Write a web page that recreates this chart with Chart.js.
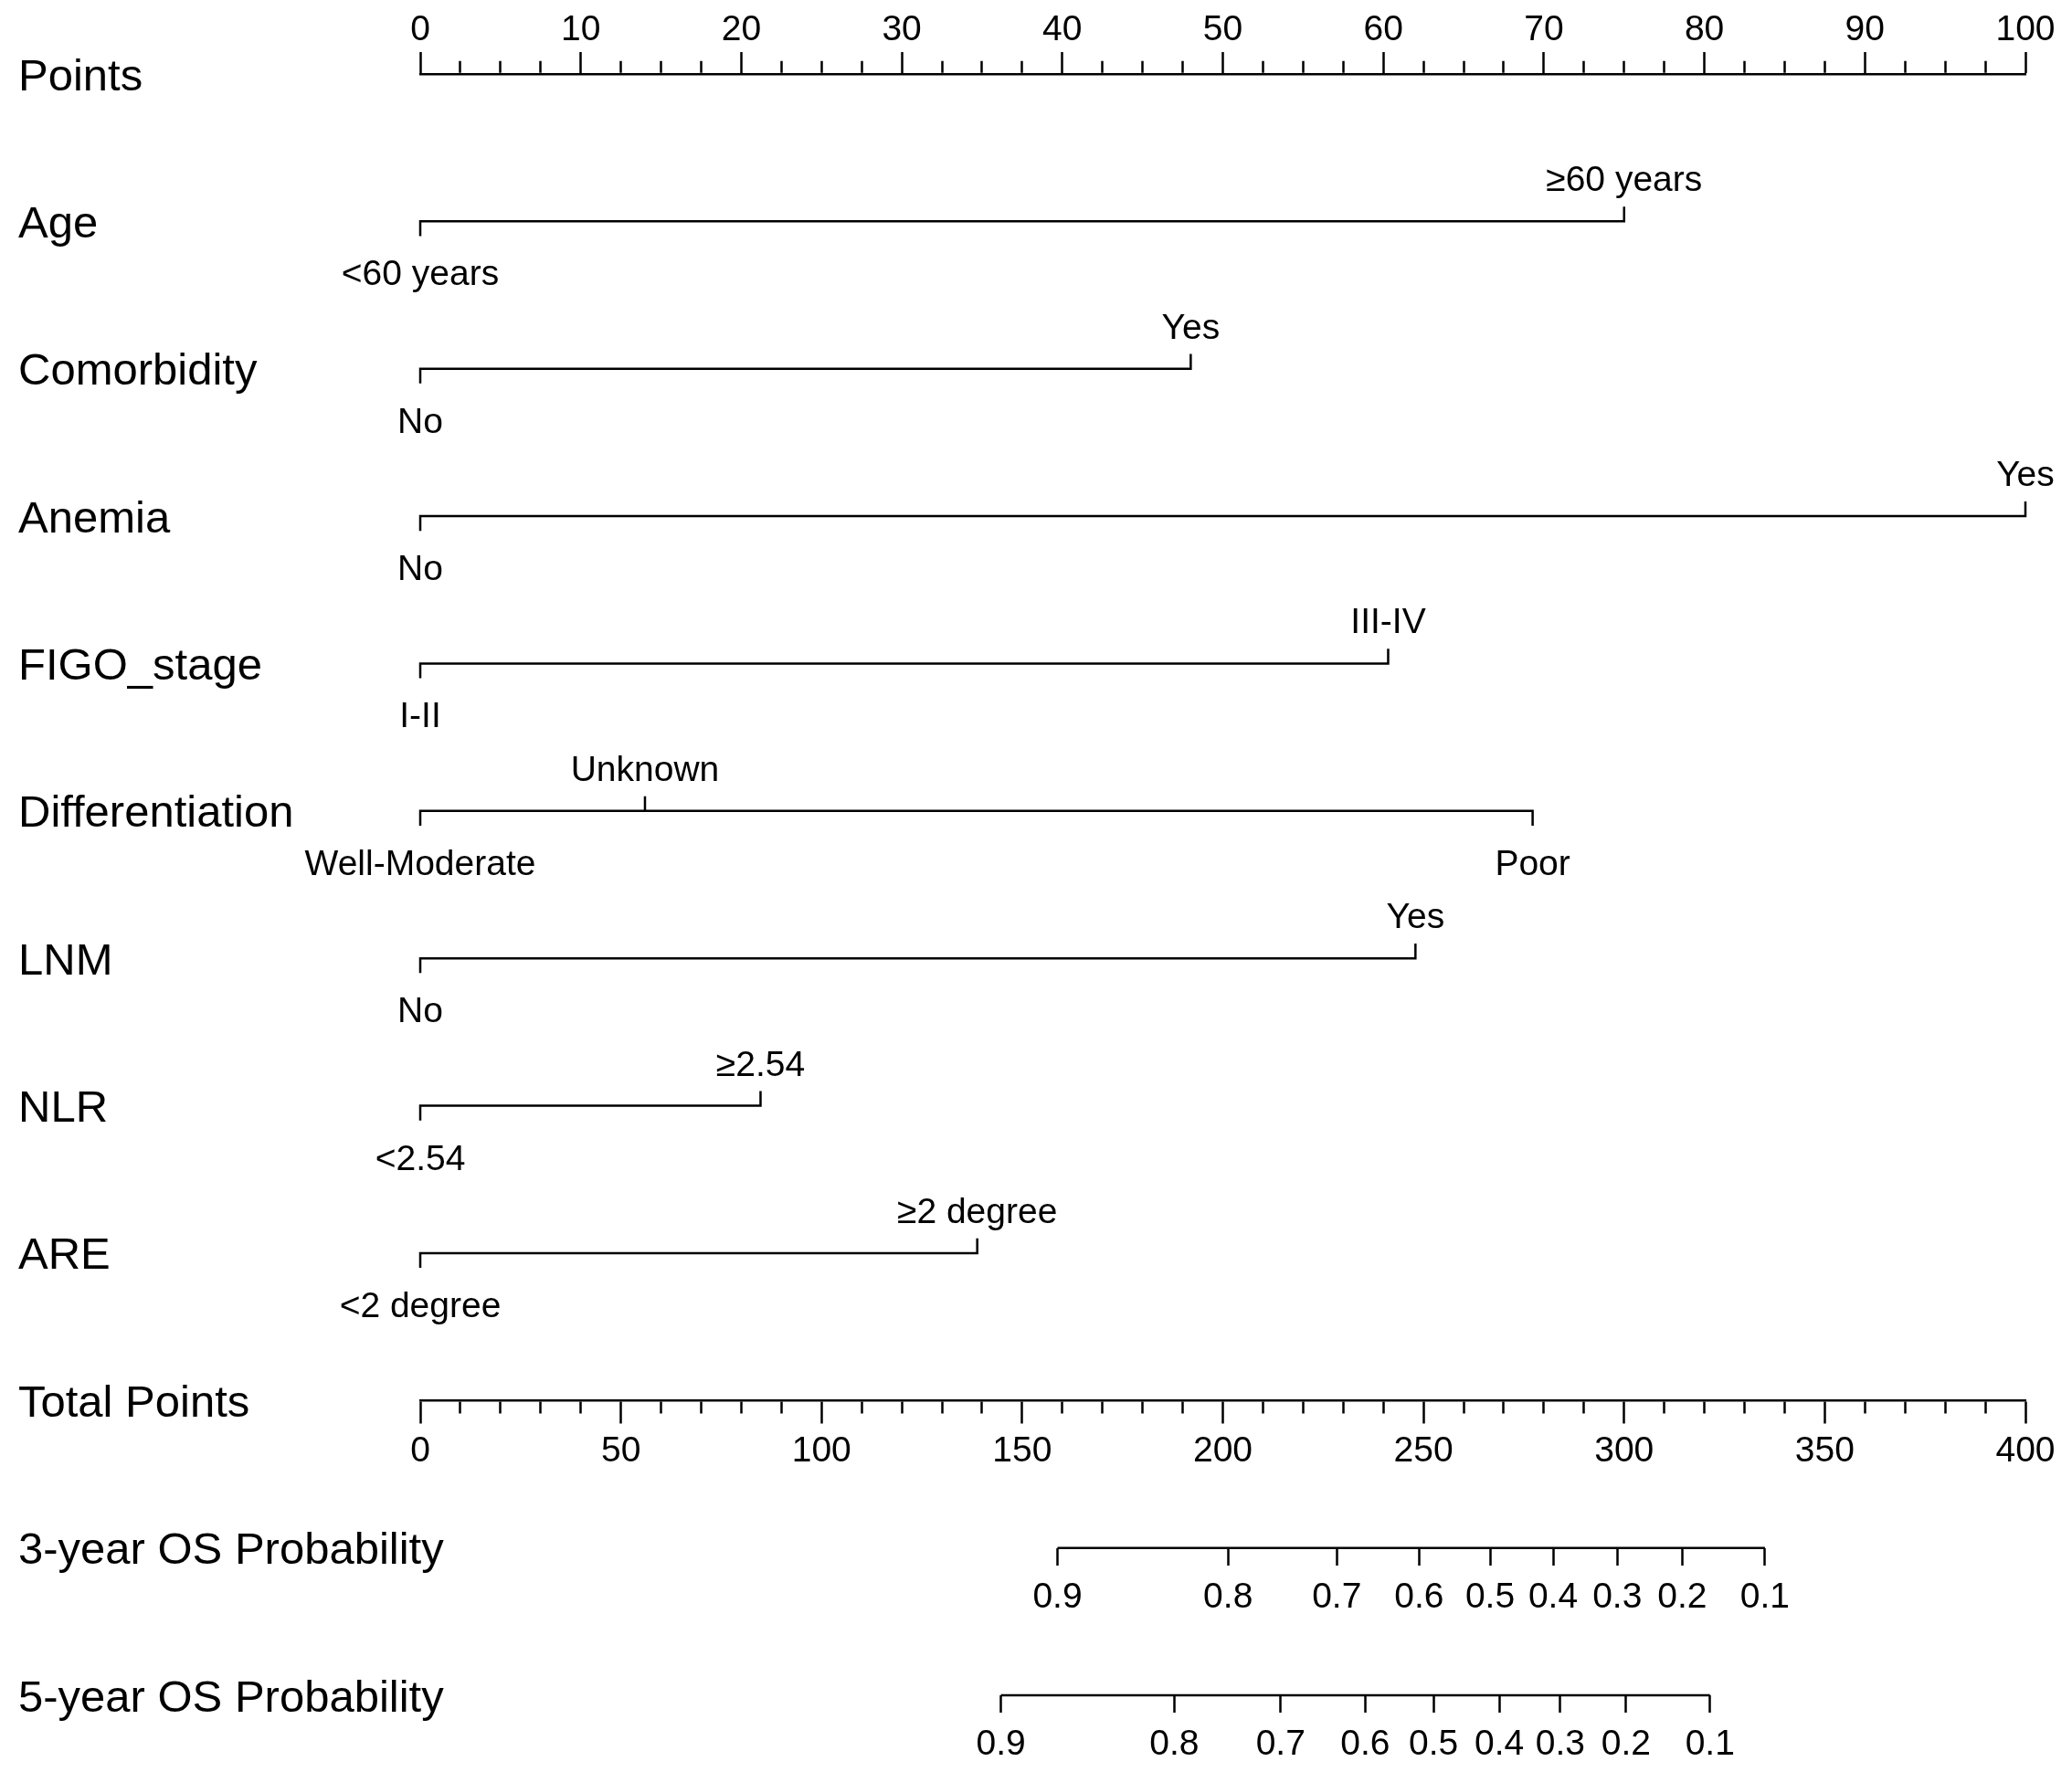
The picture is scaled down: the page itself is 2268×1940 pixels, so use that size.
<!DOCTYPE html>
<html>
<head>
<meta charset="utf-8">
<script src="https://cdn.jsdelivr.net/npm/chart.js@4.4.1/dist/chart.umd.min.js"></script>
<style>
  html, body { margin: 0; padding: 0; background: #fff; }
  #wrap { width: 2268px; height: 1940px; }
</style>
</head>
<body>
<div id="wrap"><canvas id="nomogram"></canvas></div>
<script>
// row titles, top to bottom (row index = y value)
const rowNames = ['Points', 'Age', 'Comorbidity', 'Anemia', 'FIGO_stage', 'Differentiation',
  'LNM', 'NLR', 'ARE', 'Total Points', '3-year OS Probability', '5-year OS Probability'];

// levels and their points (0-100 scale)
const ageLevels = ['<60 years', '≥60 years'];
const agePoints = [0, 75.0];
const comorbLevels = ['No', 'Yes'];
const comorbPoints = [0, 48.0];
const anemiaLevels = ['No', 'Yes'];
const anemiaPoints = [0, 100];
const figoLevels = ['I-II', 'III-IV'];
const figoPoints = [0, 60.3];
const diffLevels = ['Well-Moderate', 'Unknown', 'Poor'];
const diffPoints = [0, 14.0, 69.3];
const lnmLevels = ['No', 'Yes'];
const lnmPoints = [0, 62.0];
const nlrLevels = ['<2.54', '≥2.54'];
const nlrPoints = [0, 21.2];
const areLevels = ['<2 degree', '≥2 degree'];
const arePoints = [0, 34.7];

// probability scales: tick labels and where they fall on Total Points (0-400)
const os3Labels = ['0.9', '0.8', '0.7', '0.6', '0.5', '0.4', '0.3', '0.2', '0.1'];
const os3Total = [158.8, 201.3, 228.4, 248.9, 266.6, 282.3, 298.3, 314.5, 335.1];
const os5Labels = ['0.9', '0.8', '0.7', '0.6', '0.5', '0.4', '0.3', '0.2', '0.1'];
const os5Total = [144.7, 187.9, 214.4, 235.5, 252.5, 268.9, 284.1, 300.5, 321.4];

const variables = [
  { levels: ageLevels, points: agePoints },
  { levels: comorbLevels, points: comorbPoints },
  { levels: anemiaLevels, points: anemiaPoints },
  { levels: figoLevels, points: figoPoints },
  { levels: diffLevels, points: diffPoints },
  { levels: lnmLevels, points: lnmPoints },
  { levels: nlrLevels, points: nlrPoints },
  { levels: areLevels, points: arePoints },
];

const FAMILY = '"Liberation Sans", Arial, Helvetica, sans-serif';
const LINE_W = 2.5;
const TICK = 0.1;          // bracket tick length, in row units
const TOTAL_ROW = 9, OS3_ROW = 10, OS5_ROW = 11;
const LEFT_GAP = 440;      // room for the row titles

Chart.defaults.font.family = FAMILY;
Chart.defaults.color = '#000';

// bracket line for one variable: baseline plus a tick at every level
function bracket(points, row) {
  const data = [];
  points.forEach((p, j) => {
    const dir = j % 2 === 0 ? 1 : -1;   // first level below, then alternate
    data.push({ x: p, y: row }, { x: p, y: row + dir * TICK }, { x: p, y: row });
  });
  return data;
}

const lineStyle = {
  borderColor: '#000', borderWidth: LINE_W, pointRadius: 0, fill: false,
  tension: 0, clip: false, borderCapStyle: 'butt', borderJoinStyle: 'miter'
};

const datasets = variables.map((v, i) => Object.assign({
  data: bracket(v.points, i + 1), xAxisID: 'x'
}, lineStyle));

datasets.push(Object.assign({
  data: [{ x: os3Total[0], y: OS3_ROW }, { x: os3Total[os3Total.length - 1], y: OS3_ROW }],
  xAxisID: 'os3'
}, lineStyle));
datasets.push(Object.assign({
  data: [{ x: os5Total[0], y: OS5_ROW }, { x: os5Total[os5Total.length - 1], y: OS5_ROW }],
  xAxisID: 'os5'
}, lineStyle));

// level names above / below each bracket
const levelLabels = {
  id: 'levelLabels',
  afterDatasetsDraw(chart) {
    const { ctx } = chart;
    const x = chart.scales.x, y = chart.scales.y;
    ctx.save();
    ctx.fillStyle = '#000';
    ctx.font = '39px ' + FAMILY;
    ctx.textAlign = 'center';
    ctx.textBaseline = 'alphabetic';
    variables.forEach((v, i) => {
      const py = y.getPixelForValue(i + 1);
      v.levels.forEach((name, j) => {
        const px = x.getPixelForValue(v.points[j]);
        ctx.fillText(name, px, j % 2 === 0 ? py + 70 : py - 33);
      });
    });
    ctx.restore();
  }
};

const tickFont = { size: 39, lineHeight: 1 };

function probAxis(row, positions, labels) {
  return {
    type: 'linear', axis: 'x', position: { y: row }, min: 0, max: 400,
    afterBuildTicks: (s) => { s.ticks = positions.map(v => ({ value: v })); },
    border: { display: false },
    grid: { drawOnChartArea: false, drawTicks: true, tickLength: 19, tickWidth: LINE_W, tickColor: '#000' },
    ticks: { autoSkip: false, maxRotation: 0, padding: 16, font: tickFont,
      callback: (v, i) => labels[i] }
  };
}

new Chart(document.getElementById('nomogram'), {
  type: 'line',
  data: { datasets },
  plugins: [levelLabels],
  options: {
    responsive: true,
    maintainAspectRatio: false,
    animation: false,
    events: [],
    layout: { padding: { left: 20, right: 51, top: 10, bottom: 84 } },
    plugins: { legend: { display: false }, tooltip: { enabled: false } },
    scales: {
      y: {
        type: 'linear', position: 'left', reverse: true, min: 0, max: 11,
        afterFit: (s) => { s.width = LEFT_GAP; },
        grid: { display: false }, border: { display: false },
        // mirrored so the long titles are not clipped to the axis box
        ticks: { stepSize: 1, mirror: true, padding: -LEFT_GAP, labelOffset: 4, font: { size: 49 },
          callback: (v) => rowNames[v] }
      },
      x: {
        type: 'linear', position: 'top', min: 0, max: 100,
        border: { display: true, color: '#000', width: LINE_W },
        grid: {
          drawOnChartArea: false, drawTicks: true, tickLength: 24, tickWidth: LINE_W, tickColor: '#000',
          // minor ticks: only the lower part of the mark is drawn
          tickBorderDash: (c) => (c.tick && c.tick.value % 10 === 0) ? [] : [13, 9.75],
          tickBorderDashOffset: (c) => (c.tick && c.tick.value % 10 === 0) ? 0 : 13
        },
        ticks: { stepSize: 2.5, maxTicksLimit: 100, autoSkip: false, maxRotation: 0, padding: 4, font: tickFont,
          callback: (v) => v % 10 === 0 ? String(v) : '' }
      },
      total: {
        type: 'linear', axis: 'x', position: { y: TOTAL_ROW }, min: 0, max: 400,
        border: { display: true, color: '#000', width: LINE_W },
        grid: {
          drawOnChartArea: false, drawTicks: true, tickLength: 24, tickWidth: LINE_W, tickColor: '#000',
          tickBorderDash: (c) => (c.tick && c.tick.value % 50 === 0) ? [] : [13, 100]
        },
        ticks: { stepSize: 10, maxTicksLimit: 100, autoSkip: false, maxRotation: 0, padding: 12, font: tickFont,
          callback: (v) => v % 50 === 0 ? String(v) : '' }
      },
      os3: probAxis(OS3_ROW, os3Total, os3Labels),
      os5: probAxis(OS5_ROW, os5Total, os5Labels)
    }
  }
});
</script>
</body>
</html>
